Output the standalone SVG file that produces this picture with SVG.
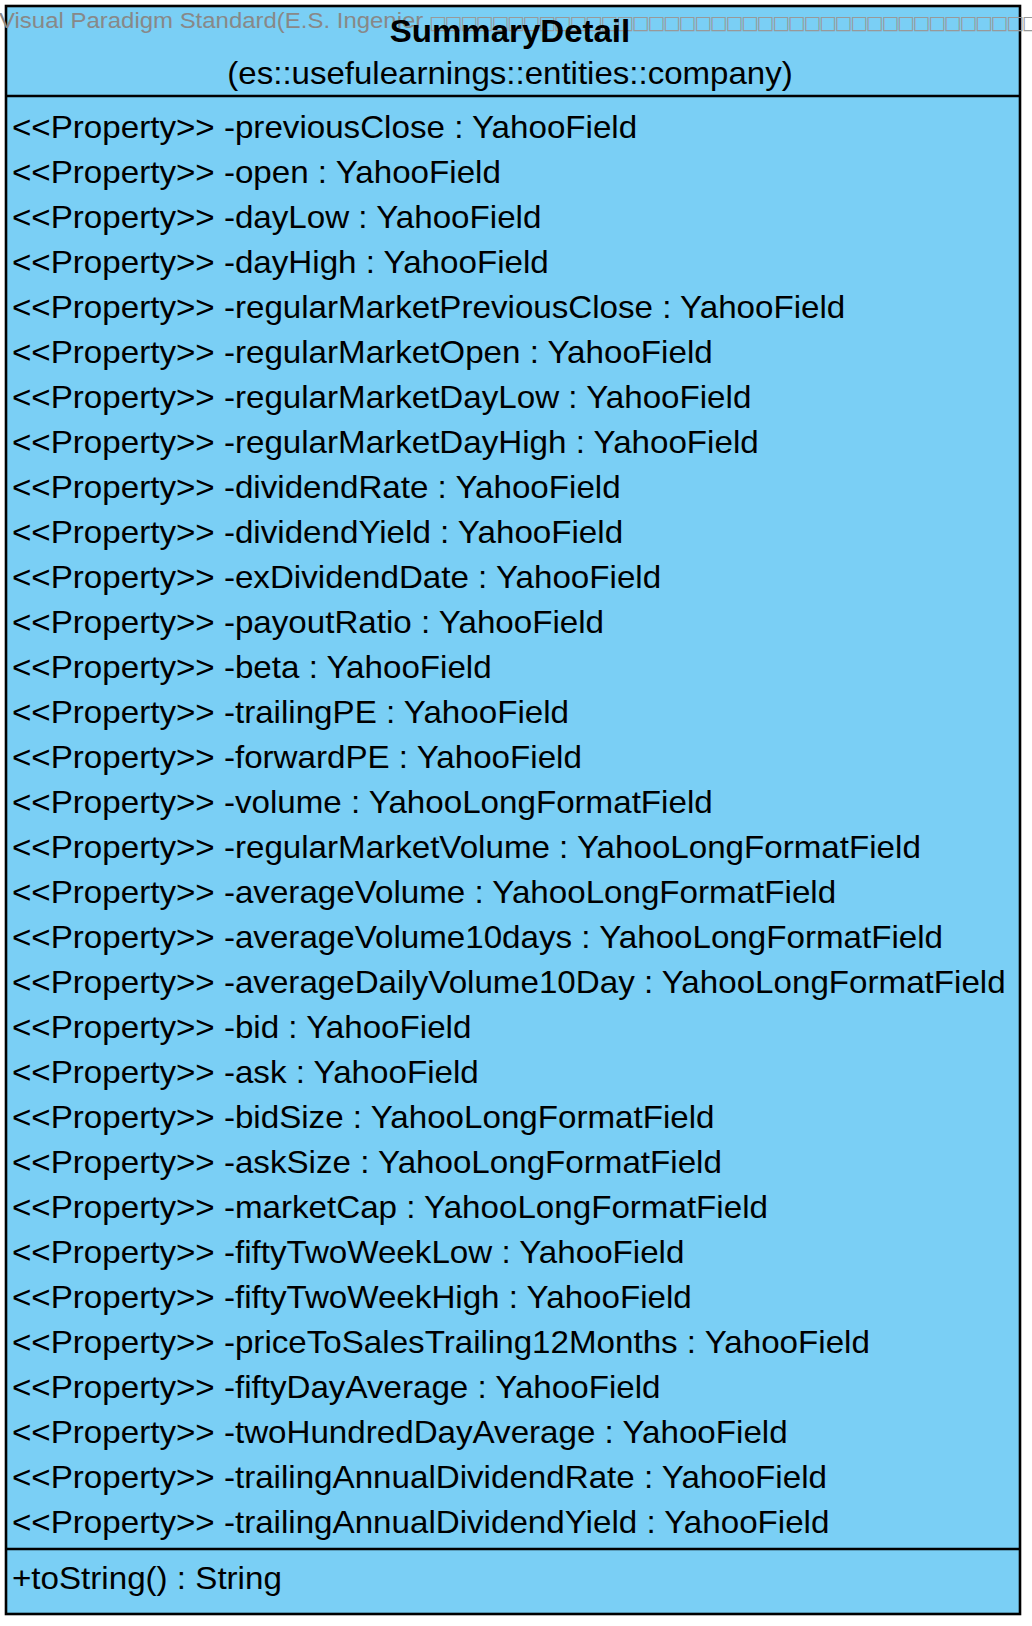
<svg xmlns="http://www.w3.org/2000/svg" width="1032" height="1626" viewBox="0 0 1032 1626">
  <style>
    .box { fill: #7ACFF5; stroke: #000000; stroke-width: 2.6; }
    .sep { stroke: #000000; stroke-width: 2.6; fill: none; }
    .t { font-family: "Liberation Sans", Arial, sans-serif; font-size: 30.5px; fill: #000000; }
    .title { font-family: "Liberation Sans", Arial, sans-serif; font-size: 30.5px; font-weight: bold; fill: #000000; }
    .wm { font-family: "Liberation Sans", Arial, sans-serif; font-size: 22.5px; fill: #888888; }
    .tofu { font-family: "DejaVu Sans", sans-serif; font-size: 19px; fill: #999999; }
  </style>
  <rect width="1032" height="1626" fill="#FFFFFF"/>
  <g id="SummaryDetail">
    <rect class="box" x="6" y="6" width="1014" height="1608"/>
    <g id="watermark">
      <text class="wm" x="0" y="28" transform="matrix(1.065 0 0 1 -1 0)">Visual Paradigm Standard(E.S. Ingenier</text>
      <text class="tofu" y="29" x="429 444.6 460.2 475.8 491.4 507 522.6 538.2 553.8 569.4 585 600.6 616.2 631.8 647.4 663 678.6 694.2 709.8 725.4 741 756.6 772.2 787.8 803.4 819 834.6 850.2 865.8 881.4 897 912.6 928.2 943.8 959.4 975 990.6 1006.2 1021.8">□□□□□□□□□□□□□□□□□□□□□□□□□□□□□□□□□□□□□□□</text>
    </g>
    <g id="header" transform="matrix(1.083 0 0 1 510 0)">
      <text class="title" x="0" y="42" text-anchor="middle">SummaryDetail</text>
      <text class="t" x="0" y="84" text-anchor="middle">(es::usefulearnings::entities::company)</text>
    </g>
    <line class="sep" x1="6" y1="96" x2="1020" y2="96"/>
    <g id="attributes" transform="matrix(1.087 0 0 1 12 0)">
      <text class="t" x="0" y="138">&lt;&lt;Property&gt;&gt; -previousClose : YahooField</text>
      <text class="t" x="0" y="183">&lt;&lt;Property&gt;&gt; -open : YahooField</text>
      <text class="t" x="0" y="228">&lt;&lt;Property&gt;&gt; -dayLow : YahooField</text>
      <text class="t" x="0" y="273">&lt;&lt;Property&gt;&gt; -dayHigh : YahooField</text>
      <text class="t" x="0" y="318">&lt;&lt;Property&gt;&gt; -regularMarketPreviousClose : YahooField</text>
      <text class="t" x="0" y="363">&lt;&lt;Property&gt;&gt; -regularMarketOpen : YahooField</text>
      <text class="t" x="0" y="408">&lt;&lt;Property&gt;&gt; -regularMarketDayLow : YahooField</text>
      <text class="t" x="0" y="453">&lt;&lt;Property&gt;&gt; -regularMarketDayHigh : YahooField</text>
      <text class="t" x="0" y="498">&lt;&lt;Property&gt;&gt; -dividendRate : YahooField</text>
      <text class="t" x="0" y="543">&lt;&lt;Property&gt;&gt; -dividendYield : YahooField</text>
      <text class="t" x="0" y="588">&lt;&lt;Property&gt;&gt; -exDividendDate : YahooField</text>
      <text class="t" x="0" y="633">&lt;&lt;Property&gt;&gt; -payoutRatio : YahooField</text>
      <text class="t" x="0" y="678">&lt;&lt;Property&gt;&gt; -beta : YahooField</text>
      <text class="t" x="0" y="723">&lt;&lt;Property&gt;&gt; -trailingPE : YahooField</text>
      <text class="t" x="0" y="768">&lt;&lt;Property&gt;&gt; -forwardPE : YahooField</text>
      <text class="t" x="0" y="813">&lt;&lt;Property&gt;&gt; -volume : YahooLongFormatField</text>
      <text class="t" x="0" y="858">&lt;&lt;Property&gt;&gt; -regularMarketVolume : YahooLongFormatField</text>
      <text class="t" x="0" y="903">&lt;&lt;Property&gt;&gt; -averageVolume : YahooLongFormatField</text>
      <text class="t" x="0" y="948">&lt;&lt;Property&gt;&gt; -averageVolume10days : YahooLongFormatField</text>
      <text class="t" x="0" y="993">&lt;&lt;Property&gt;&gt; -averageDailyVolume10Day : YahooLongFormatField</text>
      <text class="t" x="0" y="1038">&lt;&lt;Property&gt;&gt; -bid : YahooField</text>
      <text class="t" x="0" y="1083">&lt;&lt;Property&gt;&gt; -ask : YahooField</text>
      <text class="t" x="0" y="1128">&lt;&lt;Property&gt;&gt; -bidSize : YahooLongFormatField</text>
      <text class="t" x="0" y="1173">&lt;&lt;Property&gt;&gt; -askSize : YahooLongFormatField</text>
      <text class="t" x="0" y="1218">&lt;&lt;Property&gt;&gt; -marketCap : YahooLongFormatField</text>
      <text class="t" x="0" y="1263">&lt;&lt;Property&gt;&gt; -fiftyTwoWeekLow : YahooField</text>
      <text class="t" x="0" y="1308">&lt;&lt;Property&gt;&gt; -fiftyTwoWeekHigh : YahooField</text>
      <text class="t" x="0" y="1353">&lt;&lt;Property&gt;&gt; -priceToSalesTrailing12Months : YahooField</text>
      <text class="t" x="0" y="1398">&lt;&lt;Property&gt;&gt; -fiftyDayAverage : YahooField</text>
      <text class="t" x="0" y="1443">&lt;&lt;Property&gt;&gt; -twoHundredDayAverage : YahooField</text>
      <text class="t" x="0" y="1488">&lt;&lt;Property&gt;&gt; -trailingAnnualDividendRate : YahooField</text>
      <text class="t" x="0" y="1533">&lt;&lt;Property&gt;&gt; -trailingAnnualDividendYield : YahooField</text>
    </g>
    <line class="sep" x1="6" y1="1549" x2="1020" y2="1549"/>
    <g id="operations" transform="matrix(1.087 0 0 1 12 0)">
      <text class="t" x="0" y="1589">+toString() : String</text>
    </g>
  </g>
  <g id="connectors"/>
</svg>
